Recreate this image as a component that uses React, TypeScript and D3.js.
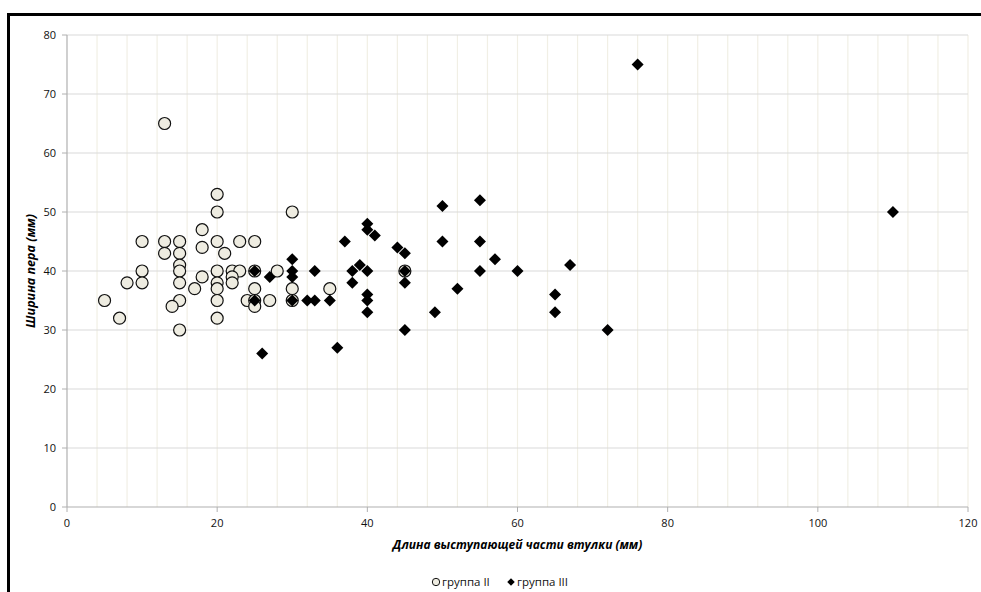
import React from "react";
import * as d3 from "d3";

// группа II (кружки): [длина, ширина]
const groupII: [number, number][] = [
  [13, 65], [20, 53], [20, 50], [30, 50], [18, 47],
  [10, 45], [13, 45], [15, 45], [20, 45], [23, 45], [25, 45],
  [13, 43], [15, 43], [18, 44], [21, 43], [15, 41],
  [10, 40], [15, 40], [20, 40], [22, 40], [23, 40], [28, 40], [25, 40],
  [22, 39], [18, 39], [8, 38], [10, 38], [15, 38], [20, 38], [22, 38],
  [17, 37], [20, 37], [25, 37], [30, 37], [35, 37],
  [5, 35], [15, 35], [20, 35], [24, 35], [25, 35], [27, 35], [30, 35],
  [25, 34], [14, 34], [7, 32], [20, 32], [15, 30], [45, 40]
];

// группа III (ромбы)
const groupIII: [number, number][] = [
  [25, 40], [27, 39], [30, 42], [30, 40], [30, 39], [33, 40],
  [25, 35], [30, 35], [32, 35], [33, 35], [35, 35],
  [26, 26], [36, 27], [37, 45], [38, 40], [39, 41], [38, 38],
  [40, 48], [40, 47], [41, 46], [40, 40], [40, 36], [40, 35], [40, 33],
  [44, 44], [45, 43], [45, 40], [45, 38], [45, 30], [49, 33],
  [50, 51], [50, 45], [52, 37], [55, 52], [55, 45], [55, 40],
  [57, 42], [60, 40], [67, 41], [65, 36], [65, 33], [72, 30],
  [76, 75], [110, 50]
];

const xTicks = [0, 20, 40, 60, 80, 100, 120];
const yTicks = [0, 10, 20, 30, 40, 50, 60, 70, 80];
const xMinor = d3.range(4, 121, 4);

const xTitle = "Длина выступающей части втулки (мм)";
const yTitle = "Ширина пера (мм)";
const legendLabels = ["группа II", "группа III"];

const W = 981;
const H = 592;
const plot = { left: 67, right: 968, top: 35, bottom: 507 };
const font = "'Open Sans', 'Noto Sans', sans-serif";

const App = () => {
  const x = d3.scaleLinear().domain([0, 120]).range([plot.left, plot.right]);
  const y = d3.scaleLinear().domain([0, 80]).range([plot.bottom, plot.top]);
  const diamond = d3.symbol(d3.symbolSquare, 72)();
  const legendDiamond = d3.symbol(d3.symbolSquare, 28)();

  return (
    <svg
      width={W}
      height={H}
      style={{ position: "fixed", left: 0, top: 0, background: "#fff" }}
    >
      {/* frame */}
      <path d={`M8.5,${H + 5}V14.5H${W + 5}`} fill="none" stroke="#000" strokeWidth={3} />

      {/* vertical minor grid */}
      {xMinor.map(v => (
        <line key={"vx" + v} x1={x(v)} x2={x(v)} y1={plot.top} y2={plot.bottom}
          stroke="#F1EFE5" strokeWidth={1.2} />
      ))}
      {/* horizontal grid */}
      {yTicks.filter(v => v > 0).map(v => (
        <line key={"hy" + v} x1={plot.left} x2={plot.right} y1={y(v)} y2={y(v)}
          stroke="#D9D9D9" strokeWidth={1.2} />
      ))}

      {/* axes */}
      <line x1={plot.left} x2={plot.left} y1={plot.top} y2={plot.bottom} stroke="#B0B0B0" strokeWidth={1.2} />
      <line x1={plot.left} x2={plot.right} y1={plot.bottom} y2={plot.bottom} stroke="#B0B0B0" strokeWidth={1.2} />
      {yTicks.map(v => (
        <g key={"yt" + v}>
          <line x1={plot.left - 5} x2={plot.left} y1={y(v)} y2={y(v)} stroke="#B0B0B0" />
          <text x={plot.left - 11} y={y(v)} dy="0.35em" textAnchor="end"
            fontFamily={font} fontSize={11} fill="#111">{v}</text>
        </g>
      ))}
      {xTicks.map(v => (
        <g key={"xt" + v}>
          <line x1={x(v)} x2={x(v)} y1={plot.bottom} y2={plot.bottom + 5} stroke="#B0B0B0" />
          <text x={x(v)} y={523} dy="0.35em" textAnchor="middle"
            fontFamily={font} fontSize={11} fill="#111">{v}</text>
        </g>
      ))}

      {/* titles */}
      <text x={(plot.left + plot.right) / 2} y={545} dy="0.35em" textAnchor="middle"
        fontFamily={font} fontSize={12} fontWeight="bold" fontStyle="italic" fill="#000">
        {xTitle}
      </text>
      <text transform={`translate(31,${(plot.top + plot.bottom) / 2}) rotate(-90)`}
        dy="0.35em" textAnchor="middle"
        fontFamily={font} fontSize={12.5} fontWeight="bold" fontStyle="italic" fill="#000">
        {yTitle}
      </text>

      {/* группа II */}
      {groupII.map(([a, b], i) => (
        <circle key={"c" + i} cx={x(a)} cy={y(b)} r={6}
          fill="#EEECE1" stroke="#111" strokeWidth={1.2} />
      ))}
      {/* группа III */}
      {groupIII.map(([a, b], i) => (
        <path key={"d" + i} d={diamond!}
          transform={`translate(${x(a)},${y(b)}) rotate(45)`} fill="#000" />
      ))}

      {/* legend */}
      <circle cx={436} cy={582} r={3.7} fill="#EEECE1" stroke="#111" />
      <text x={442} y={582} dy="0.35em" fontFamily={font} fontSize={11.5} fill="#111">
        {legendLabels[0]}
      </text>
      <path d={legendDiamond!} transform="translate(511,582) rotate(45)" fill="#000" />
      <text x={517} y={582} dy="0.35em" fontFamily={font} fontSize={11.5} fill="#111">
        {legendLabels[1]}
      </text>
    </svg>
  );
};

export default App;
